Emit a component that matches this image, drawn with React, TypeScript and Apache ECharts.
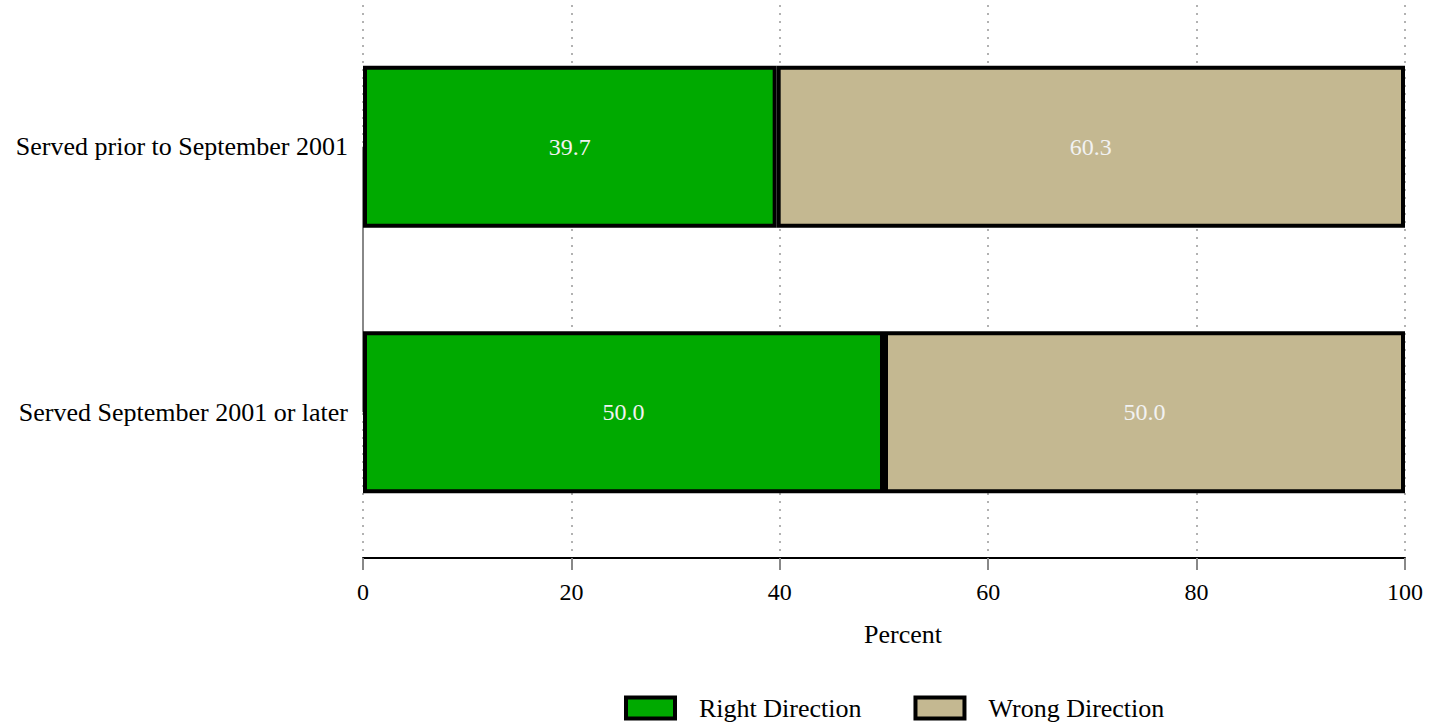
import React, { useEffect, useRef } from "react";
import * as echarts from "echarts";

const categories = ["Served prior to September 2001", "Served September 2001 or later"];
const rightDirection = [39.7, 50.0];
const wrongDirection = [60.3, 50.0];
const xTicks = { min: 0, max: 100, interval: 20 };
const seriesNames = ["Right Direction", "Wrong Direction"];

const FONT = "Liberation Serif";

export default function App() {
  const ref = useRef<HTMLDivElement>(null);
  useEffect(() => {
    if (!ref.current) return;
    const chart = echarts.init(ref.current, null, { renderer: "svg" });
    const labelCommon = {
      show: true,
      position: "inside",
      color: "#f2f2f2",
      fontFamily: FONT,
      fontSize: 24,
      formatter: (p: any) => Number(p.value).toFixed(1),
    };
    chart.setOption({
      animation: false,
      backgroundColor: "#ffffff",
      textStyle: { fontFamily: FONT },
      grid: [
        { left: 363, right: 24, top: 14, height: 531 },
        { left: 363, right: 24, top: 5, height: 547 },
      ],
      xAxis: [
        {
          gridIndex: 0,
          type: "value",
          min: xTicks.min,
          max: xTicks.max,
          interval: xTicks.interval,
          offset: 13,
          axisLine: { show: true, lineStyle: { color: "#000", width: 2 } },
          axisTick: { show: true, length: 12, lineStyle: { color: "#888", width: 2 } },
          axisLabel: { color: "#000", fontFamily: FONT, fontSize: 24, margin: 22 },
          splitLine: { show: false },
        },
        {
          gridIndex: 1,
          type: "value",
          min: xTicks.min,
          max: xTicks.max,
          interval: xTicks.interval,
          axisLine: { show: false },
          axisTick: { show: false },
          axisLabel: { show: false },
          splitLine: { show: true, lineStyle: { color: "#999", width: 1.5, type: [2, 6] } },
          z: 0,
        },
      ],
      yAxis: [
        {
          gridIndex: 0,
          type: "category",
          data: categories,
          inverse: true,
          axisLine: { show: false },
          axisTick: { show: false },
          axisLabel: { color: "#000", fontFamily: FONT, fontSize: 26, margin: 15 },
        },
        {
          gridIndex: 1,
          type: "value",
          min: 0,
          max: 1,
          show: false,
        },
      ],
      legend: {
        top: 695,
        left: 624,
        padding: 0,
        itemWidth: 49,
        itemHeight: 21,
        itemGap: 52,
        icon: "rect",
        data: seriesNames,
        itemStyle: { borderColor: "#000", borderWidth: 4 },
        textStyle: { fontFamily: FONT, fontSize: 26, color: "#000", padding: [0, 0, 0, 19] },
      },
      graphic: [
        {
          type: "text",
          x: 903,
          y: 634,
          style: {
            text: "Percent",
            fontFamily: FONT,
            fontSize: 26,
            fill: "#000",
            align: "center",
            verticalAlign: "middle",
          },
        },
      ],
      series: [
        {
          name: seriesNames[0],
          type: "bar",
          stack: "total",
          xAxisIndex: 0,
          yAxisIndex: 0,
          barWidth: "61%",
          data: rightDirection,
          itemStyle: { color: "#00aa00", borderColor: "#000", borderWidth: 4 },
          label: labelCommon,
          markLine: {
            silent: true,
            symbol: "none",
            label: { show: false },
            lineStyle: { color: "#888", width: 2, type: "solid" },
            data: [[{ coord: [0, categories[0]] }, { coord: [0, categories[1]] }]],
            z: 1,
          },
        },
        {
          name: seriesNames[1],
          type: "bar",
          stack: "total",
          xAxisIndex: 0,
          yAxisIndex: 0,
          barWidth: "61%",
          data: wrongDirection,
          itemStyle: { color: "#c4b891", borderColor: "#000", borderWidth: 4 },
          label: labelCommon,
        },
      ],
    });
    return () => chart.dispose();
  }, []);
  return (
    <div
      ref={ref}
      style={{ position: "fixed", left: 0, top: 0, width: 1429, height: 728 }}
    />
  );
}
